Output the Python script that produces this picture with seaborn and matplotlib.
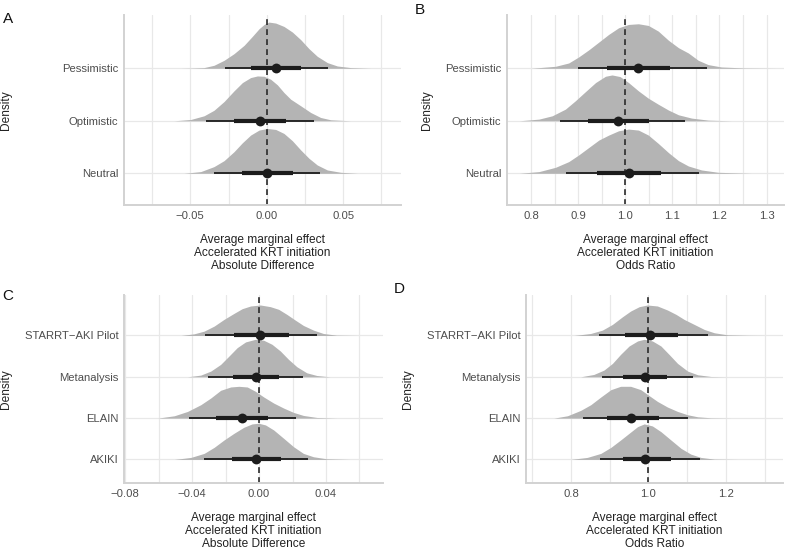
import numpy as np
import pandas as pd
from matplotlib import pyplot as plt
import seaborn as sns

# ---- panel A: absolute difference, prior scenarios ----
a_labels = ['Neutral', 'Optimistic', 'Pessimistic']
a_median = [0.0004, -0.0046, 0.0059]
a_lo66 = [-0.0159, -0.0214, -0.0100]
a_hi66 = [0.0175, 0.0124, 0.0223]
a_lo95 = [-0.0345, -0.0395, -0.0275]
a_hi95 = [0.0349, 0.0310, 0.0404]

a_neu_x = [-0.0541, -0.0432, -0.0345, -0.0279, -0.0214, -0.0159, -0.0105, -0.0050, 0.0004,
           0.0059, 0.0113, 0.0168, 0.0223, 0.0277, 0.0331, 0.0397, 0.0484, 0.0593]
a_neu_h = [0, 0.032, 0.127, 0.241, 0.411, 0.582, 0.728, 0.823, 0.854,
           0.835, 0.759, 0.620, 0.443, 0.285, 0.158, 0.063, 0.019, 0]
a_opt_x = [-0.0606, -0.0497, -0.0410, -0.0345, -0.0279, -0.0214, -0.0159, -0.0105, -0.0061, -0.0017,
           0.0026, 0.0070, 0.0113, 0.0157, 0.0223, 0.0288, 0.0353, 0.0419, 0.0550]
a_opt_h = [0, 0.025, 0.095, 0.200, 0.367, 0.570, 0.728, 0.823, 0.854, 0.848,
           0.791, 0.684, 0.538, 0.411, 0.285, 0.158, 0.063, 0.019, 0]
a_pes_x = [-0.0560, -0.0497, -0.0410, -0.0345, -0.0279, -0.0214, -0.0148, -0.0094, -0.0050, -0.0017, 0.0015,
           0.0059, 0.0113, 0.0168, 0.0223, 0.0277, 0.0331, 0.0397, 0.0462, 0.0550, 0.0681]
a_pes_h = [0, 0.004, 0.013, 0.057, 0.152, 0.278, 0.437, 0.608, 0.753, 0.835, 0.880,
           0.861, 0.797, 0.690, 0.544, 0.373, 0.228, 0.108, 0.044, 0.013, 0]

# ---- panel B: odds ratio, prior scenarios ----
b_labels = ['Neutral', 'Optimistic', 'Pessimistic']
b_median = [1.007, 0.985, 1.028]
b_lo66 = [0.939, 0.921, 0.961]
b_hi66 = [1.075, 1.051, 1.095]
b_lo95 = [0.875, 0.861, 0.900]
b_hi95 = [1.157, 1.127, 1.173]

b_neu_x = [0.775, 0.817, 0.852, 0.880, 0.901, 0.923, 0.944, 0.965, 0.986, 1.007,
           1.028, 1.049, 1.070, 1.092, 1.113, 1.134, 1.162, 1.197, 1.268]
b_neu_h = [0, 0.032, 0.114, 0.222, 0.348, 0.494, 0.633, 0.728, 0.810, 0.842,
           0.823, 0.728, 0.570, 0.392, 0.241, 0.139, 0.063, 0.019, 0]
b_opt_x = [0.775, 0.817, 0.845, 0.873, 0.894, 0.915, 0.937, 0.958, 0.972, 0.989,
           1.007, 1.028, 1.049, 1.070, 1.092, 1.113, 1.141, 1.176, 1.225]
b_opt_h = [0, 0.032, 0.095, 0.222, 0.380, 0.551, 0.728, 0.848, 0.873, 0.842,
           0.728, 0.570, 0.430, 0.316, 0.203, 0.114, 0.051, 0.013, 0]
b_pes_x = [0.800, 0.852, 0.880, 0.901, 0.923, 0.944, 0.965, 0.986, 1.007, 1.028,
           1.049, 1.070, 1.092, 1.113, 1.134, 1.155, 1.176, 1.204, 1.254, 1.320]
b_pes_h = [0, 0.038, 0.101, 0.215, 0.354, 0.500, 0.646, 0.772, 0.835, 0.848,
           0.816, 0.709, 0.532, 0.392, 0.291, 0.152, 0.070, 0.025, 0.006, 0]

# ---- panel C: absolute difference, trials ----
c_labels = ['AKIKI', 'ELAIN', 'Metanalysis', 'STARRT\u2212AKI Pilot']
c_median = [-0.0020, -0.0105, -0.0020, 0.0008]
c_lo66 = [-0.0164, -0.0257, -0.0154, -0.0150]
c_hi66 = [0.0131, 0.0055, 0.0119, 0.0176]
c_lo95 = [-0.0329, -0.0418, -0.0303, -0.0325]
c_hi95 = [0.0291, 0.0222, 0.0265, 0.0345]

c_aki_x = [-0.0507, -0.0408, -0.0329, -0.0269, -0.0210, -0.0150, -0.0091, -0.0042, -0.0002,
           0.0038, 0.0087, 0.0147, 0.0206, 0.0265, 0.0325, 0.0404, 0.0543]
c_aki_h = [0, 0.049, 0.146, 0.292, 0.470, 0.633, 0.779, 0.860, 0.876,
           0.835, 0.714, 0.511, 0.308, 0.146, 0.065, 0.016, 0]
c_ela_x = [-0.0606, -0.0507, -0.0428, -0.0349, -0.0289, -0.0230, -0.0170, -0.0121, -0.0071,
           -0.0022, 0.0028, 0.0087, 0.0147, 0.0206, 0.0265, 0.0345, 0.0463]
c_ela_h = [0, 0.057, 0.162, 0.324, 0.487, 0.673, 0.754, 0.770, 0.754,
           0.649, 0.511, 0.365, 0.243, 0.138, 0.065, 0.016, 0]
c_met_x = [-0.0428, -0.0349, -0.0289, -0.0230, -0.0180, -0.0131, -0.0081, -0.0022,
           0.0028, 0.0077, 0.0127, 0.0176, 0.0226, 0.0285, 0.0345, 0.0424]
c_met_h = [0, 0.041, 0.138, 0.300, 0.503, 0.706, 0.844, 0.908,
           0.884, 0.787, 0.625, 0.422, 0.243, 0.097, 0.032, 0]
c_sta_x = [-0.0467, -0.0388, -0.0329, -0.0269, -0.0210, -0.0150, -0.0101, -0.0051, 0.0008,
           0.0067, 0.0117, 0.0166, 0.0216, 0.0265, 0.0325, 0.0384, 0.0463, 0.0582]
c_sta_h = [0, 0.041, 0.105, 0.227, 0.389, 0.535, 0.649, 0.714, 0.738,
           0.698, 0.633, 0.511, 0.373, 0.243, 0.130, 0.049, 0.008, 0]

# ---- panel D: odds ratio, trials ----
d_labels = ['AKIKI', 'ELAIN', 'Metanalysis', 'STARRT\u2212AKI Pilot']
d_median = [0.991, 0.956, 0.991, 1.004]
d_lo66 = [0.934, 0.894, 0.935, 0.939]
d_hi66 = [1.058, 1.026, 1.049, 1.077]
d_lo95 = [0.875, 0.832, 0.880, 0.872]
d_hi95 = [1.133, 1.103, 1.114, 1.154]

d_aki_x = [0.799, 0.842, 0.877, 0.903, 0.928, 0.950, 0.972, 0.989, 1.010,
           1.032, 1.058, 1.084, 1.109, 1.135, 1.170, 1.230]
d_aki_h = [0, 0.049, 0.146, 0.292, 0.470, 0.633, 0.795, 0.860, 0.811,
           0.673, 0.470, 0.268, 0.130, 0.049, 0.008, 0]
d_ela_x = [0.756, 0.791, 0.825, 0.851, 0.877, 0.903, 0.928, 0.954, 0.980,
           1.002, 1.023, 1.049, 1.075, 1.101, 1.127, 1.161, 1.213]
d_ela_h = [0, 0.057, 0.187, 0.324, 0.511, 0.689, 0.770, 0.770, 0.689,
           0.543, 0.405, 0.268, 0.162, 0.081, 0.032, 0.008, 0]
d_met_x = [0.825, 0.859, 0.885, 0.907, 0.928, 0.950, 0.972, 0.989,
           1.010, 1.032, 1.053, 1.075, 1.101, 1.127, 1.161, 1.204]
d_met_h = [0, 0.057, 0.162, 0.324, 0.543, 0.746, 0.868, 0.908,
           0.868, 0.746, 0.543, 0.324, 0.138, 0.049, 0.008, 0]
d_sta_x = [0.808, 0.851, 0.881, 0.907, 0.933, 0.954, 0.976, 0.997, 1.023,
           1.049, 1.071, 1.092, 1.118, 1.144, 1.170, 1.204, 1.256, 1.300]
d_sta_h = [0, 0.049, 0.130, 0.268, 0.454, 0.592, 0.697, 0.738, 0.714,
           0.616, 0.511, 0.389, 0.268, 0.146, 0.065, 0.016, 0.004, 0]

title_abs = 'Average marginal effect\nAccelerated KRT initiation\nAbsolute Difference'
title_or = 'Average marginal effect\nAccelerated KRT initiation\nOdds Ratio'

sns.set_theme(style='white')
plt.rcParams['font.family'] = ['Liberation Sans', 'DejaVu Sans']

W, H = 787, 550
fig = plt.figure(figsize=(W / 100, H / 100), dpi=100)

slab = '#b4b4b4'
ink = '#1c1c1c'
grid = '#e8e8e8'


def minus(s):
    return s.replace('-', '\u2212')


def panel(l, t, r, b, xlim, ylim, labels, slabs, med, lo66, hi66, lo95, hi95,
          ref, major, major_fmt, minor, xlabel, ylab_px):
    ax = fig.add_axes([l / W, 1 - b / H, (r - l) / W, (b - t) / H])
    ypos = np.arange(1, len(labels) + 1)

    # grid: vertical major + minor, horizontal at categories
    for v in list(major) + list(minor):
        ax.axvline(v, color=grid, lw=0.9, zorder=0)
    for y in ypos:
        ax.axhline(y, color=grid, lw=0.9, zorder=0)

    for y, (xs, hs) in zip(ypos, slabs):
        xs = np.asarray(xs)
        hs = np.asarray(hs)
        ax.fill_between(xs, y, y + hs, color=slab, lw=0, zorder=1)

    ax.axvline(ref, color='#2a2a2a', lw=1.2, ls=(0, (3.5, 2.5)), zorder=2)

    ax.hlines(ypos, lo95, hi95, color=ink, lw=1.3, zorder=3)
    ax.hlines(ypos, lo66, hi66, color=ink, lw=3.0, zorder=3)
    pts = pd.DataFrame({'x': med, 'y': ypos})
    sns.scatterplot(data=pts, x='x', y='y', ax=ax, s=50, color=ink,
                    edgecolor=ink, linewidth=0, zorder=4)

    ax.set_xlim(*xlim)
    ax.set_ylim(*ylim)
    ax.set_xticks(major, [minus(major_fmt.format(v)) for v in major])
    ax.set_yticks(ypos, labels)
    ax.tick_params(length=0, labelsize=8.1, labelcolor='#4d4d4d', pad=4)
    ax.set_xlabel(xlabel, fontsize=8.6, color='#222222', linespacing=1.1, labelpad=9.8)
    ax.set_ylabel('Density', fontsize=8.6, color='#222222')
    ax.yaxis.set_label_coords((ylab_px - l) / (r - l), 0.5)

    for side in ['top', 'right']:
        ax.spines[side].set_visible(False)
    for side in ['left', 'bottom']:
        ax.spines[side].set_color('#d2d2d2')
        ax.spines[side].set_linewidth(1.4)
    return ax


panel(124, 15, 401, 205, (-0.0934, 0.0879), (0.396, 4.015), a_labels,
      [(a_neu_x, a_neu_h), (a_opt_x, a_opt_h), (a_pes_x, a_pes_h)],
      a_median, a_lo66, a_hi66, a_lo95, a_hi95,
      0.0, [-0.05, 0.0, 0.05], '{:.2f}', [-0.075, -0.025, 0.025, 0.075], title_abs, 12)

panel(507, 15, 784, 205, (0.749, 1.337), (0.396, 4.015), b_labels,
      [(b_neu_x, b_neu_h), (b_opt_x, b_opt_h), (b_pes_x, b_pes_h)],
      b_median, b_lo66, b_hi66, b_lo95, b_hi95,
      1.0, [0.8, 0.9, 1.0, 1.1, 1.2, 1.3], '{:.1f}',
      [0.85, 0.95, 1.05, 1.15, 1.25], title_or, 433)

panel(124, 295, 383, 483, (-0.0808, 0.0741), (0.43, 4.98), c_labels,
      [(c_aki_x, c_aki_h), (c_ela_x, c_ela_h), (c_met_x, c_met_h), (c_sta_x, c_sta_h)],
      c_median, c_lo66, c_hi66, c_lo95, c_hi95,
      0.0, [-0.08, -0.04, 0.0, 0.04], '{:.2f}', [-0.06, -0.02, 0.02, 0.06], title_abs, 12)

panel(526, 295, 783, 483, (0.684, 1.347), (0.43, 4.98), d_labels,
      [(d_aki_x, d_aki_h), (d_ela_x, d_ela_h), (d_met_x, d_met_h), (d_sta_x, d_sta_h)],
      d_median, d_lo66, d_hi66, d_lo95, d_hi95,
      1.0, [0.8, 1.0, 1.2], '{:.1f}', [0.7, 0.9, 1.1, 1.3], title_or, 414)

for letter, x, y in [('A', 8.5, 19), ('B', 420, 10), ('C', 8, 296), ('D', 399, 289)]:
    fig.text(x / W, 1 - y / H, letter, fontsize=11, color='#111111', ha='center', va='center')

fig.savefig('out.png', dpi=100)
